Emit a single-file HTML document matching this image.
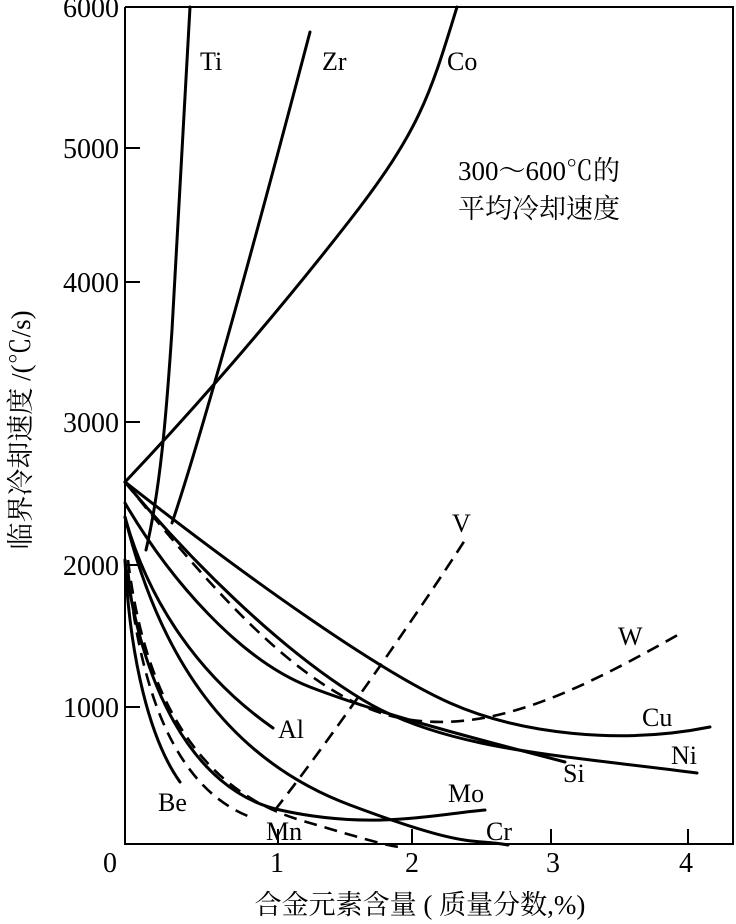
<!DOCTYPE html>
<html><head><meta charset="utf-8"><style>
html,body{margin:0;padding:0;background:#fff;}
svg{display:block;}
text{font-family:"Liberation Serif","Noto Serif CJK SC",serif;fill:#000;}
</style></head><body>
<svg width="736" height="924" viewBox="0 0 736 924" xmlns="http://www.w3.org/2000/svg">
<g fill="none" stroke="#000" stroke-width="2">
<polyline points="125,7 733,7 733,844 125,844 125,7"/>
<line x1="125" y1="148" x2="140" y2="148"/><line x1="125" y1="282" x2="140" y2="282"/>
<line x1="125" y1="422" x2="140" y2="422"/><line x1="125" y1="565" x2="140" y2="565"/>
<line x1="125" y1="707" x2="140" y2="707"/>
<line x1="278" y1="844" x2="278" y2="829"/><line x1="412" y1="844" x2="412" y2="829"/>
<line x1="551" y1="844" x2="551" y2="829"/><line x1="688" y1="844" x2="688" y2="829"/>
</g>
<g fill="none" stroke="#000" stroke-width="3" stroke-linejoin="round" stroke-linecap="round">
<path d="M125,482 C200,403 280,310 350,220 S430,95 457,7"/>
<path d="M146,550 C160,490 166,420 172,330 S183,148 190,7"/>
<path d="M172,523 C200,440 250,260 310,32"/>
<path d="M125,482 C250,580 380,672 450,703 S620,745 710,727"/>
<path d="M125,482 C190,560 280,650 363,700 S560,755 697,773"/>
<path d="M125,503 C170,580 240,660 310,687 S480,740 565,762"/>
<path d="M125,517 C145,590 190,670 273,728"/>
<path d="M125,517 C160,660 230,760 350,805 S470,838 508,845"/>
<path d="M125,560 C140,680 190,790 280,810 S430,815 485,810"/>
<path d="M125,560 C130,660 150,740 180,782"/>
</g>
<g fill="none" stroke="#000" stroke-width="2.6" stroke-dasharray="13,8" stroke-linejoin="round">
<path d="M125,482 C220,600 310,700 400,718 S580,690 683,632"/>
<path d="M128,570 C140,690 175,790 253,818"/>
<path d="M128,560 C145,700 200,790 300,820 S390,845 405,848"/>
<path d="M275,810 C330,740 420,610 465,540"/>
</g>
<g font-size="26">
<text x="200" y="70">Ti</text><text x="322" y="70">Zr</text><text x="447" y="70">Co</text>
<text x="618" y="645">W</text><text x="642" y="726">Cu</text><text x="671" y="764">Ni</text>
<text x="563" y="782">Si</text><text x="448" y="802">Mo</text><text x="486" y="840">Cr</text>
<text x="278" y="738">Al</text><text x="158" y="811">Be</text><text x="266" y="840">Mn</text>
<text x="452" y="532">V</text>
</g>
<g font-size="27">
<text x="458" y="180">300～600℃的</text>
<text x="458" y="218">平均冷却速度</text>
</g>
<g font-size="28" text-anchor="end">
<text x="119" y="17">6000</text><text x="119" y="158">5000</text><text x="119" y="292">4000</text>
<text x="119" y="432">3000</text><text x="119" y="575">2000</text><text x="119" y="717">1000</text>
</g>
<g font-size="28" text-anchor="middle">
<text x="110" y="872">0</text><text x="277" y="872">1</text><text x="412" y="872">2</text>
<text x="553" y="872">3</text><text x="686" y="872">4</text>
</g>
<text x="420" y="914" font-size="27" text-anchor="middle">合金元素含量 ( 质量分数,%)</text>
<text transform="translate(30,430) rotate(-90)" font-size="27" text-anchor="middle">临界冷却速度 /(℃/s)</text>
</svg>
</body></html>
